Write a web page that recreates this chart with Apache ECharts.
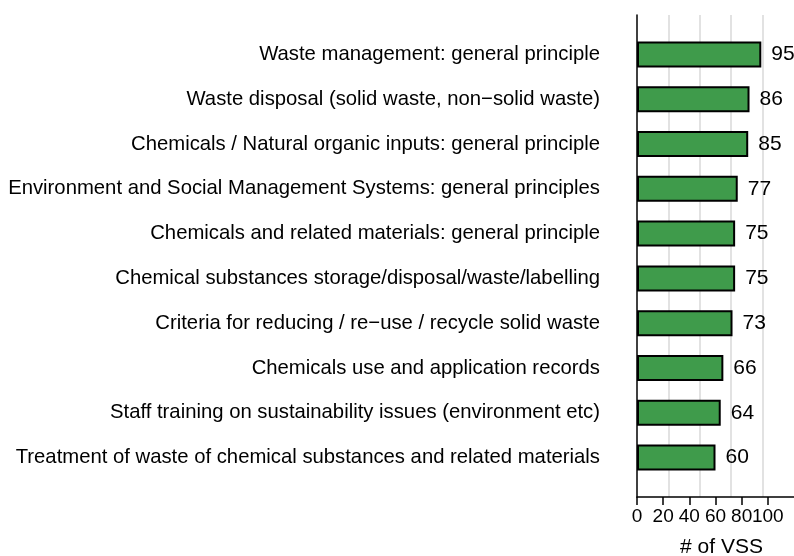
<!DOCTYPE html>
<html>
<head>
<meta charset="utf-8">
<script src="https://cdn.jsdelivr.net/npm/echarts@6/dist/echarts.min.js"></script>
<style>
  html, body { margin: 0; padding: 0; background: #fff; }
  #chart { width: 794px; height: 556px; }
</style>
</head>
<body>
<div id="chart"></div>
<script>
const categories = [
  'Waste management: general principle',
  'Waste disposal (solid waste, non\u2212solid waste)',
  'Chemicals / Natural organic inputs: general principle',
  'Environment and Social Management Systems: general principles',
  'Chemicals and related materials: general principle',
  'Chemical substances storage/disposal/waste/labelling',
  'Criteria for reducing / re\u2212use / recycle solid waste',
  'Chemicals use and application records',
  'Staff training on sustainability issues (environment etc)',
  'Treatment of waste of chemical substances and related materials'
];
const vssCounts = [95, 86, 85, 77, 75, 75, 73, 66, 64, 60];
const xTickLabels = ['0', '20', '40', '60', '80', '100'];

const FONT = 'Liberation Sans';
const chart = echarts.init(document.getElementById('chart'));

const option = {
  animation: false,
  textStyle: { fontFamily: FONT },
  grid: [
    // bars
    { left: 637, right: 0, top: 32, bottom: 76, outerBoundsMode: 'none', containLabel: false },
    // full panel: axes and grid lines
    { left: 637, right: 0, top: 15, bottom: 59, outerBoundsMode: 'none', containLabel: false }
  ],
  xAxis: [
    { gridIndex: 0, type: 'value', min: 0, max: 120, show: false },
    {
      gridIndex: 1, type: 'value', min: 0, max: 120, interval: 20,
      name: '# of VSS', nameLocation: 'middle', nameGap: 40,
      nameTextStyle: { fontSize: 21, color: '#000', fontFamily: FONT, padding: [0, 0, 0, 12] },
      axisLine: { show: true, lineStyle: { color: '#000', width: 1.5 } },
      axisTick: { show: true, length: 8, lineStyle: { color: '#000', width: 1.5 } },
      axisLabel: {
        fontSize: 19, color: '#000', margin: 10, fontFamily: FONT,
        showMaxLabel: false,
        formatter: v => xTickLabels[Math.round(v / 20)] || ''
      },
      splitLine: { show: false }
    },
    {
      // light vertical grid lines
      gridIndex: 1, type: 'value', min: 0, max: 5, interval: 1,
      axisLine: { show: false }, axisTick: { show: false }, axisLabel: { show: false },
      splitLine: { show: true, showMinLine: false, showMaxLine: false, lineStyle: { color: '#d9d9d9', width: 1.5 } }
    }
  ],
  yAxis: [
    {
      gridIndex: 0, type: 'category', data: categories, inverse: true,
      axisLine: { show: false }, axisTick: { show: false },
      axisLabel: { fontSize: 20.3, color: '#000', margin: 37, fontFamily: FONT },
      splitLine: { show: false }
    },
    {
      gridIndex: 1, type: 'value',
      axisLine: { show: true, lineStyle: { color: '#000', width: 1.5 } },
      axisTick: { show: false }, axisLabel: { show: false }, splitLine: { show: false }
    }
  ],
  series: [
    {
      type: 'bar',
      xAxisIndex: 0, yAxisIndex: 0,
      data: vssCounts,
      barWidth: 26,
      itemStyle: { color: '#3f9b4b', borderColor: '#000', borderWidth: 2 },
      label: { show: true, position: 'right', distance: 10, fontSize: 21, color: '#000', fontFamily: FONT }
    }
  ]
};
chart.setOption(option);
</script>
</body>
</html>
